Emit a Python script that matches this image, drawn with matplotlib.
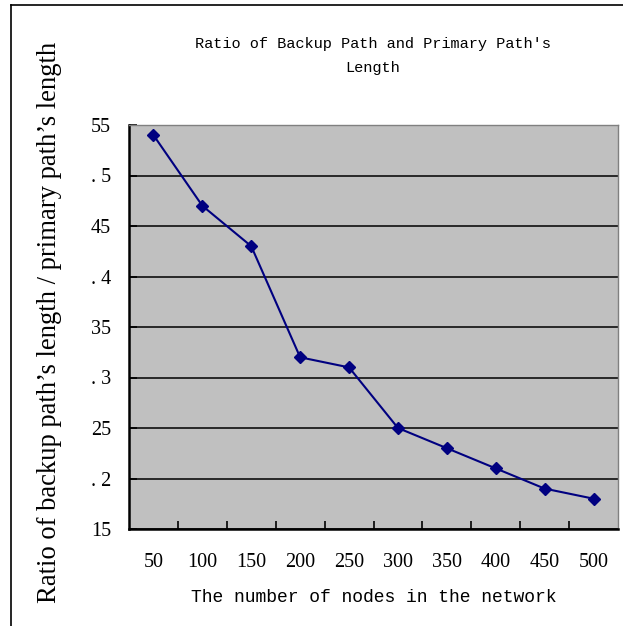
import matplotlib.pyplot as plt
from matplotlib.lines import Line2D

# number of nodes in the network and the backup/primary path length ratio
nodes = ['50', '100', '150', '200', '250', '300', '350', '400', '450', '500']
ratio = [0.54, 0.47, 0.43, 0.32, 0.31, 0.25, 0.23, 0.21, 0.19, 0.18]

y_ticks = [0.15, 0.2, 0.25, 0.3, 0.35, 0.4, 0.45, 0.5, 0.55]
y_tick_labels = ['15', '. 2', '25', '. 3', '35', '. 4', '45', '. 5', '55']

mono = 'Liberation Mono'
serif = 'Liberation Serif'

fig = plt.figure(figsize=(6.23, 6.26), dpi=100)
ax = fig.add_axes([129 / 623, 1 - 529 / 626, 489 / 623, 404 / 626])
ax.set_facecolor('#c0c0c0')

x = list(range(len(nodes)))
ax.plot(x, ratio, color='#000080', lw=1.5, marker='D', ms=6.5,
        mfc='#000080', mec='#000080', zorder=3)

ax.set_xlim(-0.5, len(nodes) - 0.5)
ax.set_ylim(0.15, 0.55)

ax.set_yticks(y_ticks)
ax.set_yticklabels(y_tick_labels, fontfamily=serif, fontsize=14.5)
ax.set_xticks([i + 0.5 for i in range(len(nodes) - 1)])
ax.set_xticklabels([])
ax.set_xticks(x, minor=True)
ax.set_xticklabels(nodes, minor=True, fontfamily=serif, fontsize=14.5)
ax.tick_params(axis='x', which='minor', length=0, pad=17)
ax.tick_params(axis='x', which='major', direction='in', length=6, width=1.2)
ax.tick_params(axis='y', direction='in', length=6, width=1.2, pad=13)

ax.grid(axis='y', color='black', lw=1.1)
ax.set_axisbelow(True)

for side in ['left', 'bottom']:
    ax.spines[side].set_linewidth(1.8)
    ax.spines[side].set_color('black')
for side in ['top', 'right']:
    ax.spines[side].set_linewidth(1.0)
    ax.spines[side].set_color('#808080')

fig.text(373 / 623, 1 - 56 / 626,
         "Ratio of Backup Path and Primary Path's\nLength",
         ha='center', va='center', fontfamily=mono, fontsize=11,
         linespacing=1.95)
fig.text(374 / 623, 1 - 598 / 626, 'The number of nodes in the network',
         ha='center', va='center', fontfamily=mono, fontsize=13)
fig.text(50 / 623, 1 - 322 / 626,
         "Ratio of backup path\u2019s length / primary path\u2019s length",
         rotation=90, ha='center', va='center',
         fontfamily=serif, fontsize=19.2)

# frame lines on the left and top of the chart area
fig.add_artist(Line2D([10.5 / 623, 10.5 / 623], [0, 1 - 4.5 / 626],
                      color='black', lw=1.2))
fig.add_artist(Line2D([10.5 / 623, 1], [1 - 4.5 / 626, 1 - 4.5 / 626],
                      color='black', lw=1.2))

fig.savefig('out.png', dpi=100)
